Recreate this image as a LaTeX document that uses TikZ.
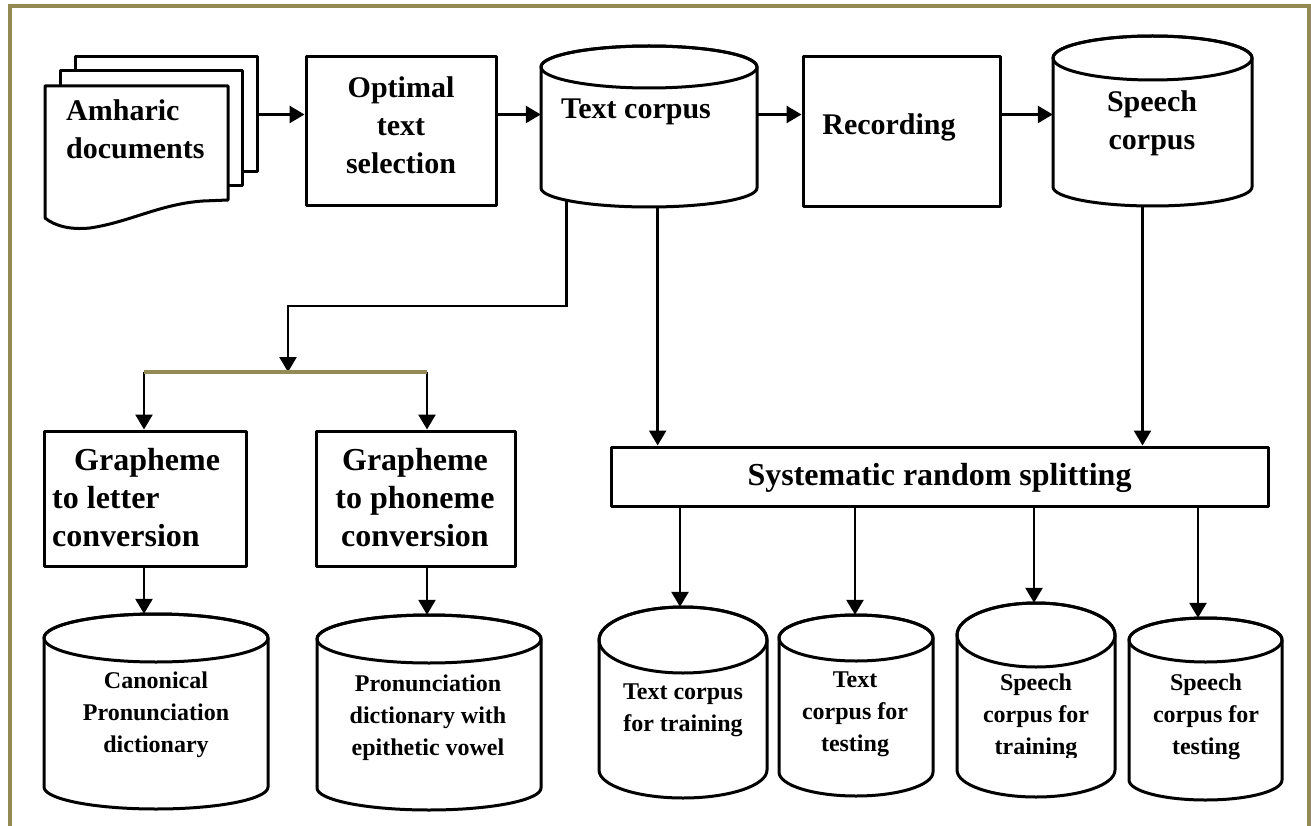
\documentclass[tikz,border=0pt]{standalone}
\usepackage{fontspec}
\setmainfont{Liberation Serif}
\usetikzlibrary{arrows.meta,calc,fit,backgrounds}
\definecolor{framecol}{HTML}{948A54}

\tikzset{
  outline/.style={draw=black, line width=3pt, fill=white, line join=round},
  box/.style={outline, rectangle, inner sep=0pt},
  hold/.style={draw=none, inner sep=0pt},
  flow/.style={line width=2.6pt, -{Triangle[length=15pt,width=17pt]}},
  toptxt/.style={font=\bfseries\fontsize{30}{38}\selectfont, align=center, inner sep=0pt},
  midtxt/.style={font=\bfseries\fontsize{32}{38}\selectfont, align=center, inner sep=0pt},
  lowtxt/.style={font=\bfseries\fontsize{24}{32}\selectfont, align=center, inner sep=0pt},
}

% database drum: name, left x, right x, top y, lowest y, top radius, bottom radius
\newcommand{\drum}[7]{%
  \node[hold, fit={(#2,-#4) (#3,-#5)}] (#1) {};
  \pgfmathsetmacro{\drumrx}{(#3-#2)/2}%
  \pgfmathsetmacro{\drumcx}{(#3+#2)/2}%
  \pgfmathsetmacro{\drumyt}{-(#4+#6)}%
  \pgfmathsetmacro{\drumyb}{-(#5-#7)}%
  \draw[outline] (#2,\drumyt) -- (#2,\drumyb)
    arc[start angle=180, end angle=360, x radius=\drumrx, y radius=#7]
    -- (#3,\drumyt)
    arc[start angle=0, end angle=180, x radius=\drumrx, y radius=#6] -- cycle;
  \draw[outline, fill=none] (\drumcx,\drumyt) ellipse[x radius=\drumrx, y radius=#6];
}

\begin{document}
\begin{tikzpicture}[x=1pt,y=1pt]
\useasboundingbox (0,0) rectangle (1311,-826);

% page frame
\draw[framecol, line width=4pt] (9.5,-830) -- (9.5,-6.5) -- (1309,-6.5) -- (1309,-830);

% stack of documents
\node[hold, fit={(75,-57) (257,-172)}] (docs) {};
\draw[outline] (75,-57) rectangle (257,-172);
\draw[outline] (60,-71) rectangle (242,-186);
\draw[outline] (45,-86) -- (228,-86) -- (228,-200) -- (203,-201)
  .. controls (160,-204) and (130,-222) .. (90,-228)
  .. controls (70,-230) and (55,-226) .. (45,-218) -- cycle;

% process boxes
\node[box, fit={(306,-57) (496,-206)}] (opt) {};
\node[box, fit={(803,-57) (1000,-207)}] (rec) {};
\node[box, fit={(44,-431) (246,-566)}] (g1) {};
\node[box, fit={(316,-431) (515,-566)}] (g2) {};
\node[box, fit={(611,-447) (1268,-506)}] (split) {};

% corpora
\drum{tc}{541}{757}{46}{207}{21}{19}
\drum{sp}{1053}{1252}{36}{206}{22}{19}
\drum{c1}{44}{268}{614}{809}{24}{22}
\drum{c2}{317}{541}{615}{810}{24}{22}
\drum{b1}{599}{767}{607}{798}{33}{28}
\drum{b2}{779}{933}{615}{796}{23}{24}
\drum{b3}{957}{1115}{603}{797}{32}{27}
\drum{b4}{1129}{1282}{618}{800}{22}{20}

% branching bar
\coordinate (barL) at (144,-372);
\coordinate (barM) at (288,-372);
\coordinate (barR) at (427,-372);
\draw[framecol, line width=4pt] (barL) -- (barR);

% labels
\node[toptxt, anchor=west, align=left] (docs-txt) at (66,-129) {Amharic\\documents};
\node[toptxt] (opt-txt) at (401,-125) {Optimal\\text\\selection};
\node[toptxt, anchor=base] (tc-txt) at (636,-119) {Text corpus};
\node[toptxt, anchor=base] (rec-txt) at (889,-135) {Recording};
\node[toptxt] (sp-txt) at (1152,-123) {Speech\\corpus};
\node[midtxt, anchor=west, align=left] (g1-txt) at (52,-498) {\hspace{22pt}Grapheme\\to letter\\conversion};
\node[midtxt] (g2-txt) at (415,-498) {Grapheme\\to phoneme\\conversion};
\node[midtxt] (split-txt) at (939.5,-478) {Systematic random splitting};
\node[lowtxt] (c1-txt) at (156,-715) {Canonical\\Pronunciation\\dictionary};
\node[lowtxt] (c2-txt) at (428,-718) {Pronunciation\\dictionary with\\epithetic vowel};
\node[lowtxt] (b1-txt) at (683,-710) {Text corpus\\for training};
\node[lowtxt] (b2-txt) at (855,-714) {Text\\corpus for\\testing};
\begin{scope}
  \clip (960,-640) rectangle (1112,-757);
  \node[lowtxt] (b3-txt) at (1036,-717) {Speech\\corpus for\\training};
\end{scope}
\node[lowtxt] (b4-txt) at (1206,-717) {Speech\\corpus for\\testing};

% connectors, kept underneath the shapes
\begin{scope}[on background layer]
  \fill[white] (0,0) rectangle (1311,-826);
  \draw[flow] (docs.east) -- (opt.west |- docs.east);
  \draw[flow] (opt.east |- docs.east) -- (tc.west |- docs.east);
  \draw[flow] (tc.east |- docs.east) -- (rec.west |- docs.east);
  \draw[flow] (rec.east |- docs.east) -- (sp.west |- docs.east);

  \coordinate (tcA) at ($(tc.south west)!0.12!(tc.south east)$);
  \coordinate (tcB) at ($(tc.south west)!0.54!(tc.south east)$);
  \coordinate (spA) at ($(sp.south)+(-10,0)$);
  \coordinate (elbow) at ($(barM)+(0,66)$);
  \draw[flow] (tc.center -| tcA) |- (elbow) -- (barM);
  \draw[flow] (tc.center -| tcB) -- (tcB |- split.north);
  \draw[flow] (sp.center -| spA) -- (spA |- split.north);

  \draw[flow] (barL) -- (barL |- g1.north);
  \draw[flow] (barR) -- (barR |- g2.north);
  \draw[flow] (g1.south -| barL) -- (barL |- c1.north);
  \draw[flow] (g2.south -| barR) -- (barR |- c2.north);

  \foreach \n/\dx in {b1/-3, b2/-1, b3/-2, b4/-7.5} {
    \path ($(\n.north)+(\dx,0)$) coordinate (\n-in);
    \draw[flow] (\n-in |- split.south) -- (\n-in);
  }
\end{scope}
\end{tikzpicture}
\end{document}
